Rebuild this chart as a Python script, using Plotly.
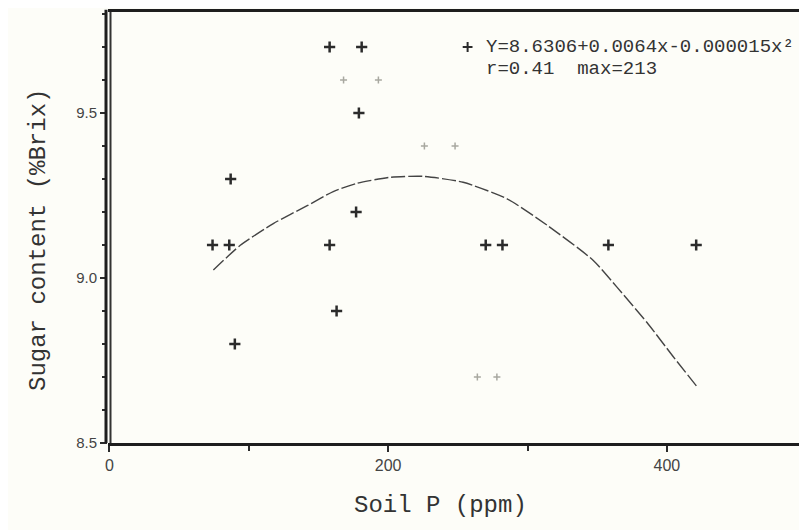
import plotly.graph_objects as go

# Observed data points (Soil P ppm, Sugar content %Brix)
soil_p = [74, 86, 87, 90, 158, 181, 179, 158, 177, 163, 270, 282, 358, 421]
sugar = [9.1, 9.1, 9.3, 8.8, 9.7, 9.7, 9.5, 9.1, 9.2, 8.9, 9.1, 9.1, 9.1, 9.1]

# faintly printed points
soil_p_faint = [168, 193, 226, 248, 264, 278]
sugar_faint = [9.6, 9.6, 9.4, 9.4, 8.7, 8.7]

# fitted curve
curve_x = [74.6, 93.9, 117.6, 141.9, 160.6, 177.8, 201.4, 225, 253.8, 285.3, 314, 347, 364, 385.7, 404.3, 421.5]
curve_y = [9.024, 9.099, 9.165, 9.219, 9.262, 9.287, 9.305, 9.308, 9.290, 9.240, 9.160, 9.054, 8.973, 8.865, 8.763, 8.671]

x_tickvals = [0, 200, 400]
x_ticktext = ["0", "200", "400"]
y_tickvals = [8.5, 9.0, 9.5]
y_ticktext = ["8.5", "9.0", "9.5"]

eq_line1 = "Y=8.6306+0.0064x-0.000015x²"
eq_line2 = "r=0.41  max=213"
legend_pt_x = [257]
legend_pt_y = [9.7]

x_title = "Soil P (ppm)"
y_title = "Sugar content (%Brix)"

ink = "#2b2b2b"
mono = "Liberation Mono, Courier New, monospace"
sans = "Liberation Sans, Arial, sans-serif"

# page body has an 8px margin; figure is sized/offset to compensate
OFF = 8
W, H = 807 - OFF, 530 - OFF
L, R, T, B = 108 - OFF, 0, 12 - OFF, 530 - 443
pw, ph = W - L - R, H - T - B


def px_to_paper(wx, wy):
    fx, fy = wx - OFF, wy - OFF
    return (fx - L) / pw, (H - B - fy) / ph


fig = go.Figure()
fig.add_trace(go.Scatter(x=curve_x, y=curve_y, mode="lines",
                         line=dict(color="#444", width=1.4, dash="14px,3px", shape="spline", smoothing=0.6),
                         hoverinfo="skip"))
fig.add_trace(go.Scatter(x=soil_p, y=sugar, mode="markers",
                         marker=dict(symbol="cross-thin", size=8, line=dict(color=ink, width=2.5))))
fig.add_trace(go.Scatter(x=soil_p_faint, y=sugar_faint, mode="markers",
                         marker=dict(symbol="cross-thin", size=5, line=dict(color="#a8a8a0", width=1.5))))
fig.add_trace(go.Scatter(x=legend_pt_x, y=legend_pt_y, mode="markers",
                         marker=dict(symbol="cross-thin", size=7, line=dict(color=ink, width=2))))

ex, _ = px_to_paper(484, 0)
fig.add_annotation(x=ex, y=9.7, xref="paper", yref="y", xanchor="left", yanchor="middle",
                   text=eq_line1, showarrow=False, font=dict(family=mono, size=19, color="#333"))
fig.add_annotation(x=ex, y=9.632, xref="paper", yref="y", xanchor="left", yanchor="middle",
                   text=eq_line2, showarrow=False, font=dict(family=mono, size=19, color="#333"))

tx, ty = px_to_paper(440, 505)
fig.add_annotation(x=tx, y=ty, xref="paper", yref="paper", xanchor="center", yanchor="middle",
                   text=x_title, showarrow=False, font=dict(family=mono, size=24, color="#333"))
tx, ty = px_to_paper(38, 240)
fig.add_annotation(x=tx, y=ty, xref="paper", yref="paper", xanchor="center", yanchor="middle",
                   textangle=-90, text=y_title, showarrow=False,
                   font=dict(family=mono, size=24, color="#333"))

# double left frame (thick outer + thinner inner line)
x_out, _ = px_to_paper(106, 0)
x_in, _ = px_to_paper(110.5, 0)
fig.add_shape(type="line", xref="paper", yref="paper", x0=x_out, x1=x_out, y0=0, y1=1.005,
              line=dict(color="#1e1e1e", width=3))
fig.add_shape(type="line", xref="paper", yref="paper", x0=x_in, x1=x_in, y0=0, y1=1,
              line=dict(color="#333", width=2))

fig.update_layout(
    width=W, height=H,
    margin=dict(l=L, r=R, t=T, b=B, autoexpand=False),
    paper_bgcolor="#fdfdf8", plot_bgcolor="#fdfdf8",
    showlegend=False,
    xaxis=dict(range=[-1, 500.5], tickvals=x_tickvals, ticktext=x_ticktext, automargin=False,
               ticks="outside", ticklen=6, tickcolor=ink, tickwidth=1.5,
               minor=dict(tickvals=[100, 300, 500], ticks="outside", ticklen=5, tickcolor=ink),
               showgrid=False, zeroline=False, showline=True, linewidth=3, linecolor="#1e1e1e", mirror=True,
               tickfont=dict(family=sans, size=16, color="#444")),
    yaxis=dict(range=[8.5, 9.806], tickvals=y_tickvals, ticktext=y_ticktext, automargin=False,
               ticks="outside", ticklen=7, tickcolor=ink, tickwidth=1.5,
               minor=dict(dtick=0.1, ticks="outside", ticklen=5, tickcolor=ink, showgrid=False),
               showgrid=False, zeroline=False, showline=False,
               tickfont=dict(family=sans, size=15, color="#444")),
)

fig.write_html("out.html")
